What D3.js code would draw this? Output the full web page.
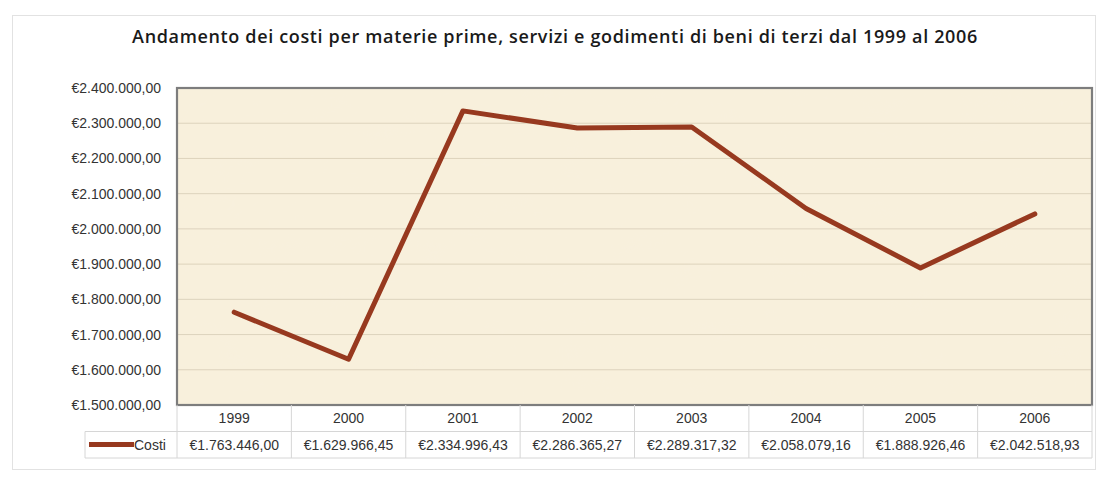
<!DOCTYPE html>
<html>
<head>
<meta charset="utf-8">
<script src="https://cdn.jsdelivr.net/npm/d3@7"></script>
<style>
  html, body { margin: 0; padding: 0; background: #ffffff; }
  svg { display: block; }
</style>
</head>
<body>
<svg id="chart" width="1099" height="477"></svg>
<script>
// Costs for raw materials, services and third-party assets, 1999–2006
const years = ["1999", "2000", "2001", "2002", "2003", "2004", "2005", "2006"];
const costi = [1763446.00, 1629966.45, 2334996.43, 2286365.27, 2289317.32, 2058079.16, 1888926.46, 2042518.93];
const seriesName = "Costi";
const yTicks = [1500000, 1600000, 1700000, 1800000, 1900000, 2000000, 2100000, 2200000, 2300000, 2400000];
const title = "Andamento dei costi per materie prime, servizi e godimenti di beni di terzi dal 1999 al 2006";

const it = d3.formatLocale({
  decimal: ",", thousands: ".", grouping: [3], currency: ["€", ""]
});
const euro = it.format("$,.2f");

const svg = d3.select("#chart");
const plot = { left: 177, top: 88, right: 1092, bottom: 405 };
const rowH = 26.5;
const labelFont = "'Liberation Sans', Arial, sans-serif";
const labelColor = "#333333";

// Paper-like texture for the plot background
const defs = svg.append("defs");
const f = defs.append("filter").attr("id", "paper").attr("x", 0).attr("y", 0).attr("width", 1).attr("height", 1);
f.append("feTurbulence").attr("type", "fractalNoise").attr("baseFrequency", "0.02 0.035").attr("numOctaves", 3).attr("seed", 7).attr("result", "noise");
f.append("feColorMatrix").attr("in", "noise").attr("type", "matrix")
  .attr("values", "0 0 0 0 0.94  0 0 0 0 0.87  0 0 0 0 0.72  0 0 0 -1.8 1.1").attr("result", "tint");
f.append("feComposite").attr("in", "tint").attr("in2", "SourceGraphic").attr("operator", "in");

// Outer chart frame
svg.append("rect")
  .attr("x", 12.5).attr("y", 15.5).attr("width", 1083).attr("height", 454)
  .attr("fill", "#ffffff").attr("stroke", "#e2e2e2").attr("stroke-width", 1);

// Title
svg.append("text")
  .attr("x", 555).attr("y", 43)
  .attr("text-anchor", "middle")
  .attr("font-family", "'Open Sans', 'DejaVu Sans', sans-serif")
  .attr("font-weight", 600)
  .attr("font-size", 18)
  .attr("letter-spacing", 0.65)
  .attr("fill", "#1a1a1a")
  .text(title);

const x = d3.scaleBand().domain(years).range([plot.left, plot.right]).padding(0);
const y = d3.scaleLinear().domain([yTicks[0], yTicks[yTicks.length - 1]]).range([plot.bottom, plot.top]);

// Plot area background
svg.append("rect")
  .attr("x", plot.left).attr("y", plot.top)
  .attr("width", plot.right - plot.left).attr("height", plot.bottom - plot.top)
  .attr("fill", "#f8f0dc");
svg.append("rect")
  .attr("x", plot.left).attr("y", plot.top)
  .attr("width", plot.right - plot.left).attr("height", plot.bottom - plot.top)
  .attr("fill", "#f8f0dc")
  .attr("filter", "url(#paper)");

// Horizontal gridlines
svg.append("g")
  .selectAll("line")
  .data(yTicks.slice(1, -1))
  .join("line")
  .attr("x1", plot.left).attr("x2", plot.right)
  .attr("y1", d => y(d)).attr("y2", d => y(d))
  .attr("stroke", "#ddd3bd").attr("stroke-width", 1);

// Plot border
svg.append("rect")
  .attr("x", plot.left).attr("y", plot.top)
  .attr("width", plot.right - plot.left).attr("height", plot.bottom - plot.top)
  .attr("fill", "none").attr("stroke", "#7d7d7d").attr("stroke-width", 2.2);

// Y axis labels
const yAxis = d3.axisLeft(y).tickValues(yTicks).tickFormat(euro).tickSize(0).tickPadding(16);
const gy = svg.append("g").attr("transform", `translate(${plot.left},0)`).call(yAxis);
gy.select(".domain").remove();
gy.selectAll("text")
  .attr("font-family", labelFont)
  .attr("font-size", 14)
  .attr("fill", labelColor);

// Data table beneath the plot
const tbl = svg.append("g");
const tableStroke = "#d6d6d6";
const legendLeft = 85;
const r1 = plot.bottom, r2 = plot.bottom + rowH, r3 = plot.bottom + 2 * rowH;

// horizontal rules
tbl.append("line").attr("x1", legendLeft).attr("x2", plot.right).attr("y1", r2).attr("y2", r2)
  .attr("stroke", tableStroke);
tbl.append("line").attr("x1", legendLeft).attr("x2", plot.right).attr("y1", r3).attr("y2", r3)
  .attr("stroke", tableStroke);
// vertical rules
const bounds = years.map(d => x(d)).concat([plot.right]);
tbl.selectAll("line.v").data(bounds).join("line").attr("class", "v")
  .attr("x1", d => d).attr("x2", d => d).attr("y1", r1).attr("y2", r3)
  .attr("stroke", tableStroke);
tbl.append("line").attr("x1", legendLeft).attr("x2", legendLeft).attr("y1", r2).attr("y2", r3)
  .attr("stroke", tableStroke);

// year labels
tbl.selectAll("text.year").data(years).join("text").attr("class", "year")
  .attr("x", d => x(d) + x.bandwidth() / 2)
  .attr("y", r1 + 18)
  .attr("text-anchor", "middle")
  .attr("font-family", labelFont)
  .attr("font-size", 14)
  .attr("fill", labelColor)
  .text(d => d);

// value labels
tbl.selectAll("text.val").data(costi).join("text").attr("class", "val")
  .attr("x", (d, i) => x(years[i]) + x.bandwidth() / 2)
  .attr("y", r2 + 18.5)
  .attr("text-anchor", "middle")
  .attr("font-family", labelFont)
  .attr("font-size", 14)
  .attr("fill", labelColor)
  .text(d => euro(d));

// legend key
const lineColor = "#97391f";
tbl.append("line")
  .attr("x1", 89).attr("x2", 134).attr("y1", r2 + 13).attr("y2", r2 + 13)
  .attr("stroke", lineColor).attr("stroke-width", 5);
tbl.append("text")
  .attr("x", 134).attr("y", r2 + 18.5)
  .attr("font-family", labelFont)
  .attr("font-size", 14)
  .attr("fill", labelColor)
  .text(seriesName);

// Series line
const line = d3.line()
  .x((d, i) => x(years[i]) + x.bandwidth() / 2)
  .y(d => y(d));
svg.append("path")
  .datum(costi)
  .attr("d", line)
  .attr("fill", "none")
  .attr("stroke", lineColor)
  .attr("stroke-width", 5)
  .attr("stroke-linejoin", "round")
  .attr("stroke-linecap", "round");
</script>
</body>
</html>
